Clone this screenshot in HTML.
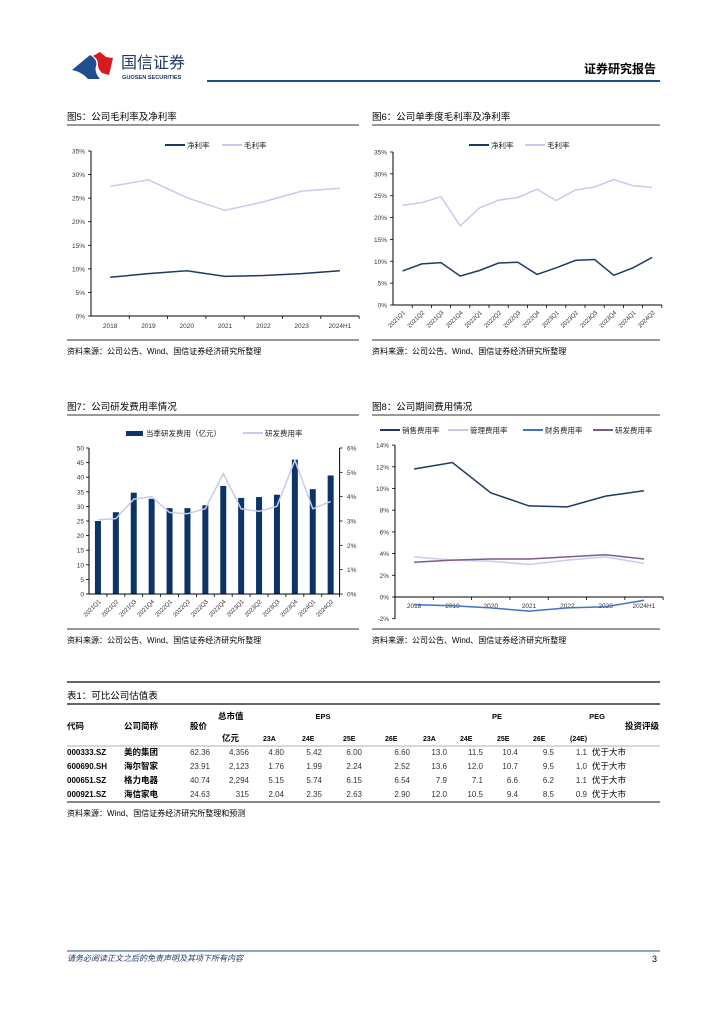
<!DOCTYPE html>
<html><head><meta charset="utf-8"><style>
body{margin:0;background:#fff}
svg{display:block;font-family:"Liberation Sans","Noto Sans CJK SC",sans-serif}
</style></head><body>
<svg id="pg" width="724" height="1024" viewBox="0 0 724 1024" xmlns="http://www.w3.org/2000/svg">
<g>
<path d="M72 70 L90 55 Q98 60 96 66 Q94 72 100 79 L88 79 Q82 72 72 70 Z" fill="#1f4e8c"/>
<path d="M93 56 L100 52 L106 57 L113 58 L109 75 L102 73 Q97 68 98 63 Q97 58 93 56 Z" fill="#d71920"/>
<text x="121" y="68" font-size="16" fill="#1f3864">国信证券</text>
<text x="122" y="79" font-size="5.6" font-weight="bold" fill="#1f3864">GUOSEN SECURITIES</text>
<rect x="207" y="80" width="453" height="2" fill="#1f4e8c"/>
<text x="656" y="73" font-size="12" font-weight="bold" text-anchor="end" fill="#000">证券研究报告</text>
</g>
<g font-size="9.5" fill="#000">
<text x="67" y="120">图5：公司毛利率及净利率</text>
<text x="372" y="120">图6：公司单季度毛利率及净利率</text>
<text x="67" y="410">图7：公司研发费用率情况</text>
<text x="372" y="410">图8：公司期间费用情况</text>
</g>
<g stroke="#333" stroke-width="1">
<line x1="67" y1="125" x2="359" y2="125"/><line x1="372" y1="125" x2="660" y2="125"/>
<line x1="67" y1="340" x2="359" y2="340"/><line x1="372" y1="340" x2="660" y2="340"/>
<line x1="67" y1="415" x2="359" y2="415"/><line x1="372" y1="415" x2="660" y2="415"/>
<line x1="67" y1="629" x2="359" y2="629"/><line x1="372" y1="629" x2="660" y2="629"/>
</g>
<g font-size="8" fill="#000">
<text x="67" y="354">资料来源：公司公告、Wind、国信证券经济研究所整理</text>
<text x="372" y="354">资料来源：公司公告、Wind、国信证券经济研究所整理</text>
<text x="67" y="643">资料来源：公司公告、Wind、国信证券经济研究所整理</text>
<text x="372" y="643">资料来源：公司公告、Wind、国信证券经济研究所整理</text>
</g>
<g id="charts"></g>
<g id="table">
<line x1="67" y1="682" x2="660" y2="682" stroke="#333" stroke-width="1.5"/>
<text x="67" y="699" font-size="9.5">表1：可比公司估值表</text>
<line x1="67" y1="704" x2="660" y2="704" stroke="#333" stroke-width="1.5"/>
<g font-size="8.5" font-weight="bold">
<text x="67" y="729">代码</text><text x="124" y="729">公司简称</text><text x="190" y="729">股价</text>
<text x="218" y="719">总市值</text><text x="222" y="741">亿元</text>
<text x="323" y="719" text-anchor="middle" font-size="7.5">EPS</text>
<text x="497" y="719" text-anchor="middle" font-size="7.5">PE</text>
<text x="597" y="719" text-anchor="middle" font-size="7.5">PEG</text>
<text x="625" y="729">投资评级</text>
<g font-size="7">
<text x="263" y="741">23A</text><text x="302" y="741">24E</text><text x="343" y="741">25E</text><text x="385" y="741">26E</text>
<text x="423" y="741">23A</text><text x="460" y="741">24E</text><text x="497" y="741">25E</text><text x="533" y="741">26E</text><text x="570" y="741">(24E)</text>
</g></g>
<line x1="67" y1="746" x2="660" y2="746" stroke="#999" stroke-width="0.8"/>
<g id="rows"></g>
<line x1="67" y1="802" x2="660" y2="802" stroke="#888" stroke-width="2"/>
<text x="67" y="816" font-size="8">资料来源：Wind、国信证券经济研究所整理和预测</text>
</g>
<line x1="67" y1="951" x2="660" y2="951" stroke="#1f4e8c" stroke-width="1"/>
<text x="67" y="961" font-size="8" font-style="italic" fill="#1f3864">请务必阅读正文之后的免责声明及其项下所有内容</text>
<text x="657" y="962" font-size="9" text-anchor="end">3</text>
</svg>
<script>
// Fig5
const f5Cats=['2018','2019','2020','2021','2022','2023','2024H1'];
const f5Net=[8.2,9.0,9.6,8.4,8.6,9.0,9.6];
const f5Gross=[27.5,28.9,25.1,22.4,24.2,26.5,27.1];
const f5Ticks=['0%','5%','10%','15%','20%','25%','30%','35%'];
// Fig6
const f6Cats=['2021Q1','2021Q2','2021Q3','2021Q4','2022Q1','2022Q2','2022Q3','2022Q4','2023Q1','2023Q2','2023Q3','2023Q4','2024Q1','2024Q2'];
const f6Net=[7.8,9.4,9.7,6.6,7.9,9.6,9.8,7.0,8.5,10.2,10.4,6.8,8.5,10.9];
const f6Gross=[22.8,23.4,24.8,18.1,22.2,24.0,24.6,26.5,23.9,26.3,27.0,28.7,27.3,26.9];
// Fig7
const f7Cats=['2021Q1','2021Q2','2021Q3','2021Q4','2022Q1','2022Q2','2022Q3','2022Q4','2023Q1','2023Q2','2023Q3','2023Q4','2024Q1','2024Q2'];
const f7Rd=[25,28,34.7,32.6,29.4,29.4,30.4,37.0,32.9,33.2,34.0,46.0,35.9,40.6];
const f7Rate=[3.05,3.1,3.9,4.0,3.35,3.3,3.5,4.95,3.5,3.4,3.6,5.5,3.5,3.8];
const f7LeftTicks=['0','5','10','15','20','25','30','35','40','45','50'];
const f7RightTicks=['0%','1%','2%','3%','4%','5%','6%'];
// Fig8
const f8Cats=['2018','2019','2020','2021','2022','2023','2024H1'];
const f8Sales=[11.8,12.4,9.6,8.4,8.3,9.3,9.8];
const f8Mgmt=[3.7,3.4,3.3,3.0,3.4,3.7,3.1];
const f8Fin=[-0.7,-0.8,-1.0,-1.3,-1.0,-0.9,-0.3];
const f8Rd=[3.2,3.4,3.5,3.5,3.7,3.9,3.5];
const f8Ticks=['-2%','0%','2%','4%','6%','8%','10%','12%','14%'];
// Table
const tCodes=['000333.SZ','600690.SH','000651.SZ','000921.SZ'];
const tNames=['美的集团','海尔智家','格力电器','海信家电'];
const tRows=[
['62.36','4,356','4.80','5.42','6.00','6.60','13.0','11.5','10.4','9.5','1.1'],
['23.91','2,123','1.76','1.99','2.24','2.52','13.6','12.0','10.7','9.5','1.0'],
['40.74','2,294','5.15','5.74','6.15','6.54','7.9','7.1','6.6','6.2','1.1'],
['24.63','315','2.04','2.35','2.63','2.90','12.0','10.5','9.4','8.5','0.9']];
const tRating=['优于大市','优于大市','优于大市','优于大市'];

const NS='http://www.w3.org/2000/svg';
const root=document.getElementById('charts');
function mk(tag,attrs,parent,txt){const e=document.createElementNS(NS,tag);for(const k in attrs)e.setAttribute(k,attrs[k]);if(txt!==undefined)e.textContent=txt;(parent||root).appendChild(e);return e;}
function axisY(g,x,y0,y1,labels,lx,anchor,right){
  mk('line',{x1:x,y1:y0,x2:x,y2:y1,stroke:'#000','stroke-width':1},g);
  const n=labels.length-1;
  labels.forEach((l,i)=>{const y=y0+(y1-y0)*i/n;
    mk('line',{x1:x-(right?0:3),y1:y,x2:x+(right?3:0),y2:y,stroke:'#000','stroke-width':0.8},g);
    const t=mk('text',{x:lx,y:y+2.5,'font-size':6.5,'text-anchor':anchor,fill:'#333'},g,l);
    
    
  });
}
function xAxis(g,x0,cw,y,cats,rot,ly){
  mk('line',{x1:x0,y1:y,x2:x0+cw*cats.length,y2:y,stroke:'#000','stroke-width':1},g);
  cats.forEach((c,i)=>{
    mk('line',{x1:x0+cw*(i+1),y1:y,x2:x0+cw*(i+1),y2:y+3,stroke:'#000','stroke-width':0.8},g);
    const cx=x0+cw*(i+0.5);let t;
    if(rot){t=mk('text',{x:cx+3,y:ly,'font-size':6,'text-anchor':'end',fill:'#333',transform:`rotate(-45 ${cx+3} ${ly})`},g,c);}
    else t=mk('text',{x:cx,y:ly,'font-size':6.5,'text-anchor':'middle',fill:'#333'},g,c);
    
    
  });
}
function line(g,vals,x0,cw,ys,color,w,name){
  const pts=vals.map((v,i)=>(x0+cw*(i+0.5)).toFixed(1)+','+ys(v).toFixed(1)).join(' ');
  const p=mk('polyline',{points:pts,fill:'none',stroke:color,'stroke-width':w},g);
  
  
}
function legLine(g,x,y,color,label,w){
  mk('line',{x1:x,y1:y,x2:x+20,y2:y,stroke:color,'stroke-width':w||2},g);
  const t=mk('text',{x:x+22,y:y+3,'font-size':7.5,fill:'#222'},g,label);
  
  
}
const NAVY='#1f3864',LAV='#c9c9f0';
// Fig5
{const g=mk('g',{});
 const x0=91,cw=38.3,yb=316,yt=151,ys=v=>yb-(v/35)*(yb-yt);
 axisY(g,x0,yb,yt,f5Ticks,85,'end');xAxis(g,x0,cw,yb,f5Cats,false,328);
 line(g,f5Gross,x0,cw,ys,LAV,1.5,'gross-margin-line');line(g,f5Net,x0,cw,ys,NAVY,1.5,'net-margin-line');
 legLine(g,165,145,NAVY,'净利率');legLine(g,222,145,LAV,'毛利率');}
// Fig6
{const g=mk('g',{});
 const x0=393,cw=19.2,yb=305,yt=152,ys=v=>yb-(v/35)*(yb-yt);
 axisY(g,x0,yb,yt,f5Ticks,387,'end');xAxis(g,x0,cw,yb,f6Cats,true,313);
 line(g,f6Gross,x0,cw,ys,LAV,1.5,'gross-margin-line');line(g,f6Net,x0,cw,ys,NAVY,1.5,'net-margin-line');
 legLine(g,469,145,NAVY,'净利率');legLine(g,525,145,LAV,'毛利率');}
// Fig7
{const g=mk('g',{});
 const x0=89,cw=17.9,yb=594,yt=448,ysl=v=>yb-(v/50)*(yb-yt),ysr=v=>yb-(v/6)*(yb-yt);
 f7Rd.forEach((v,i)=>{const r=mk('rect',{x:x0+cw*(i+0.5)-3,y:ysl(v),width:6,height:yb-ysl(v),fill:'#0d3466'},g);
   
   });
 axisY(g,x0,yb,yt,f7LeftTicks,84,'end');
 axisY(g,x0+cw*14,yb,yt,f7RightTicks,347,'start',true);
 xAxis(g,x0,cw,yb,f7Cats,true,602);
 line(g,f7Rate,x0,cw,ysr,LAV,1.5,'rd-rate-line');
 mk('rect',{x:126,y:431,width:17,height:5,fill:'#0d3466'},g);
 const t=mk('text',{x:146,y:436,'font-size':7.5,fill:'#222'},g,'当季研发费用（亿元）');
 
 
 legLine(g,243,433,LAV,'研发费用率');}
// Fig8
{const g=mk('g',{});
 const x0=395,cw=38.3,y0=597,step=21.7,ys=v=>y0-(v/2)*step;
 axisY(g,x0,ys(-2),ys(14),f8Ticks,389,'end');xAxis(g,x0,cw,y0,f8Cats,false,608);
 line(g,f8Mgmt,x0,cw,ys,LAV,1.5,'mgmt-rate-line');line(g,f8Rd,x0,cw,ys,'#7a5c8a',1.5,'rd-rate-line');
 line(g,f8Fin,x0,cw,ys,'#4472c4',1.5,'fin-rate-line');line(g,f8Sales,x0,cw,ys,NAVY,1.5,'sales-rate-line');
 legLine(g,380,430,NAVY,'销售费用率');legLine(g,448,430,LAV,'管理费用率');
 legLine(g,523,430,'#4472c4','财务费用率');legLine(g,593,430,'#7a5c8a','研发费用率');}
// Table rows
{const g=document.getElementById('rows');
 const ends=[210,249,284,322,362,410,447,483,518,554,587];
 tCodes.forEach((c,r)=>{const y=756+r*14-1;
  const row=mk('g',{},g);
  mk('text',{x:67,y:y,'font-size':8,'font-weight':'bold'},row,c);
  mk('text',{x:124,y:y,'font-size':8.5,'font-weight':'bold'},row,tNames[r]);
  tRows[r].forEach((v,k)=>mk('text',{x:ends[k],y:y,'font-size':8,'text-anchor':'end',fill:'#333'},row,v));
  mk('text',{x:592,y:y,'font-size':8.5},row,tRating[r]);
 });}
</script>
</body></html>
